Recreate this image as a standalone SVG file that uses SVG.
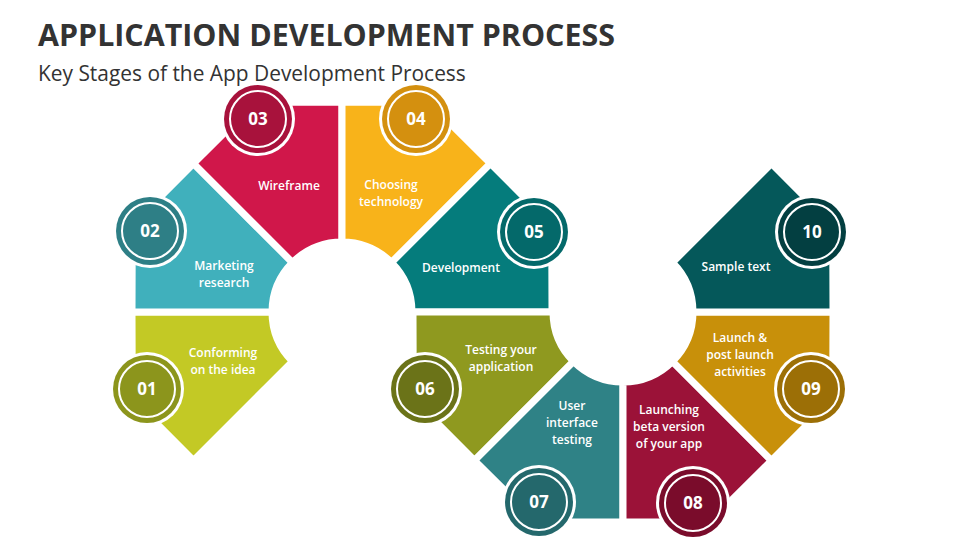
<svg xmlns="http://www.w3.org/2000/svg" width="960" height="540" viewBox="0 0 960 540">
<style>
.seg{stroke:#fff;stroke-width:7;stroke-linejoin:miter}
.lbl{font-family:"Open Sans","Liberation Sans",sans-serif;font-size:12px;font-weight:600;fill:#fff;text-anchor:middle}
.num{font-family:"Open Sans","Liberation Sans",sans-serif;font-size:17px;font-weight:700;fill:#fff;text-anchor:middle}
.ring{fill:none;stroke:#fff;stroke-width:2}
</style>
<rect width="960" height="540" fill="#fff"/>
<text x="38" y="46" font-family="'Open Sans','Liberation Sans',sans-serif" font-size="30.4" font-weight="700" fill="#333">APPLICATION DEVELOPMENT PROCESS</text>
<text x="38" y="81" font-family="'Open Sans','Liberation Sans',sans-serif" font-size="20.9" fill="#333">Key Stages of the App Development Process</text>
<g id="connectors"/>
<g id="n01"><path class="seg" fill="#C3C925" d="M132,312 L132.3,398.9 L193.5,460.5 L292.5,361.5 A70 70 0 0 1 272,312 Z"/>
<text class="lbl" x="223" y="357">Conforming</text><text class="lbl" x="223" y="374">on the idea</text>
<circle cx="147" cy="389" r="37" fill="#fff"/><circle cx="147" cy="389" r="34" fill="#8C951C"/><circle class="ring" cx="147" cy="389" r="28"/><text class="num" x="147" y="395">01</text></g>
<g id="n02"><path class="seg" fill="#40B0BC" d="M193.5,163.5 L132.3,225.1 L132,312 L272,312 A70 70 0 0 1 292.5,262.5 Z"/>
<text class="lbl" x="224" y="270">Marketing</text><text class="lbl" x="224" y="287">research</text>
<circle cx="150" cy="231" r="37" fill="#fff"/><circle cx="150" cy="231" r="34" fill="#2E7F86"/><circle class="ring" cx="150" cy="231" r="28"/><text class="num" x="150" y="237">02</text></g>
<g id="n03"><path class="seg" fill="#D0174A" d="M342,102 L255.1,102.3 L193.5,163.5 L292.5,262.5 A70 70 0 0 1 342,242 Z"/>
<text class="lbl" x="289" y="190">Wireframe</text>
<circle cx="258" cy="119" r="37" fill="#fff"/><circle cx="258" cy="119" r="34" fill="#A8123C"/><circle class="ring" cx="258" cy="119" r="28"/><text class="num" x="258" y="125">03</text></g>
<g id="n04"><path class="seg" fill="#F8B31A" d="M490.5,163.5 L428.9,102.3 L342,102 L342,242 A70 70 0 0 1 391.5,262.5 Z"/>
<text class="lbl" x="391" y="189">Choosing</text><text class="lbl" x="391" y="206">technology</text>
<circle cx="416" cy="119" r="37" fill="#fff"/><circle cx="416" cy="119" r="34" fill="#D4900F"/><circle class="ring" cx="416" cy="119" r="28"/><text class="num" x="416" y="125">04</text></g>
<g id="n05"><path class="seg" fill="#057C7C" d="M552,312 L551.7,225.1 L490.5,163.5 L391.5,262.5 A70 70 0 0 1 412,312 Z"/>
<text class="lbl" x="461" y="272">Development</text>
<circle cx="534" cy="232" r="37" fill="#fff"/><circle cx="534" cy="232" r="34" fill="#04696A"/><circle class="ring" cx="534" cy="232" r="28"/><text class="num" x="534" y="238">05</text></g>
<g id="n06"><path class="seg" fill="#8F991F" d="M413,312 L413.3,398.9 L474.5,460.5 L573.5,361.5 A70 70 0 0 1 553,312 Z"/>
<text class="lbl" x="501" y="354">Testing your</text><text class="lbl" x="501" y="371">application</text>
<circle cx="425" cy="389" r="37" fill="#fff"/><circle cx="425" cy="389" r="34" fill="#6B7318"/><circle class="ring" cx="425" cy="389" r="28"/><text class="num" x="425" y="395">06</text></g>
<g id="n07"><path class="seg" fill="#2F8286" d="M474.5,460.5 L536.1,521.7 L623,522 L623,382 A70 70 0 0 1 573.5,361.5 Z"/>
<text class="lbl" x="572" y="410">User</text><text class="lbl" x="572" y="427">interface</text><text class="lbl" x="572" y="444">testing</text>
<circle cx="539" cy="502" r="37" fill="#fff"/><circle cx="539" cy="502" r="34" fill="#24686C"/><circle class="ring" cx="539" cy="502" r="28"/><text class="num" x="539" y="508">07</text></g>
<g id="n08"><path class="seg" fill="#9B1238" d="M623,522 L709.9,521.7 L771.5,460.5 L672.5,361.5 A70 70 0 0 1 623,382 Z"/>
<text class="lbl" x="669" y="414">Launching</text><text class="lbl" x="669" y="431">beta version</text><text class="lbl" x="669" y="448">of your app</text>
<circle cx="693" cy="503" r="37" fill="#fff"/><circle cx="693" cy="503" r="34" fill="#7A0C2B"/><circle class="ring" cx="693" cy="503" r="28"/><text class="num" x="693" y="509">08</text></g>
<g id="n09"><path class="seg" fill="#C8900A" d="M771.5,460.5 L832.7,398.9 L833,312 L693,312 A70 70 0 0 1 672.5,361.5 Z"/>
<text class="lbl" x="740" y="342">Launch &amp;</text><text class="lbl" x="740" y="359">post launch</text><text class="lbl" x="740" y="376">activities</text>
<circle cx="811" cy="389" r="37" fill="#fff"/><circle cx="811" cy="389" r="34" fill="#9C6F06"/><circle class="ring" cx="811" cy="389" r="28"/><text class="num" x="811" y="395">09</text></g>
<g id="n10"><path class="seg" fill="#05585A" d="M833,312 L832.7,225.1 L771.5,163.5 L672.5,262.5 A70 70 0 0 1 693,312 Z"/>
<text class="lbl" x="736" y="271">Sample text</text>
<circle cx="812" cy="232" r="37" fill="#fff"/><circle cx="812" cy="232" r="34" fill="#033F41"/><circle class="ring" cx="812" cy="232" r="28"/><text class="num" x="812" y="238">10</text></g>
</svg>
